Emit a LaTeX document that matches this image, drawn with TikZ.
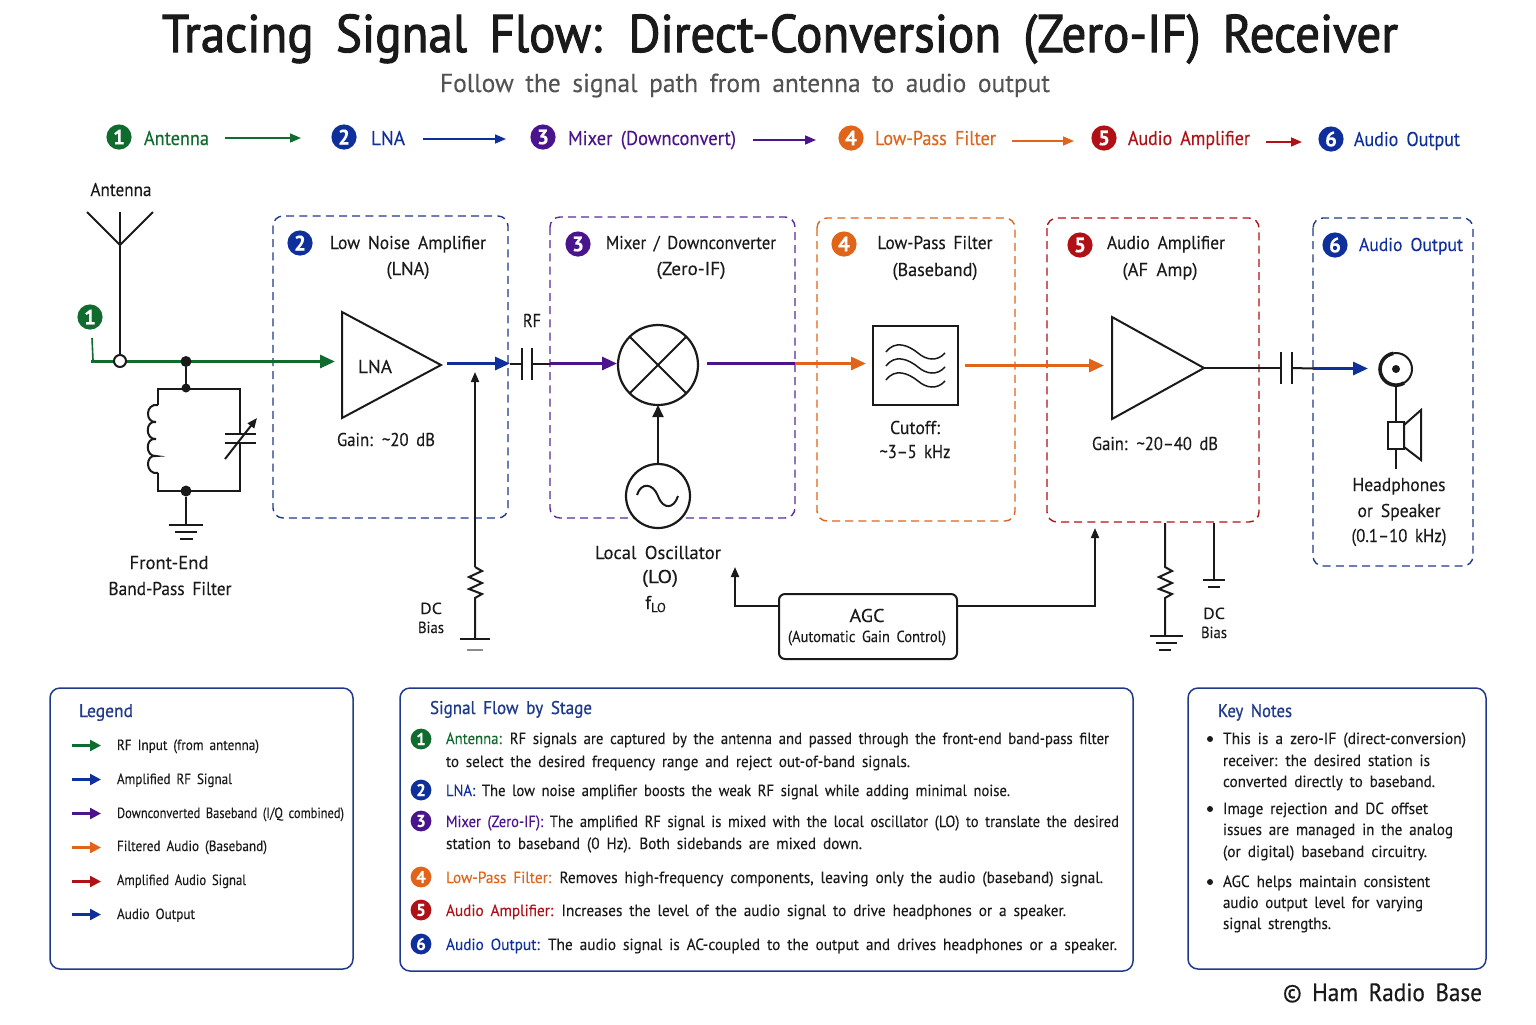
\documentclass[tikz,border=0pt]{standalone}
\usepackage{fontspec}
\usetikzlibrary{arrows.meta,shapes.geometric}
\setmainfont[WordSpace=1.7,FakeBold=0.15]{PT Sans}
\definecolor{cgreen}{HTML}{0F6B2E}
\definecolor{cblue}{HTML}{0F2F9B}
\definecolor{cpurple}{HTML}{4A148C}
\definecolor{corange}{HTML}{E0651A}
\definecolor{cred}{HTML}{B01116}
\definecolor{cink}{HTML}{1A1A1A}
\definecolor{cnavy}{HTML}{1F3A8A}
\newcommand\fx[2]{\resizebox{\dimexpr#1pt/2\relax}{\height}{#2}}
\tikzset{
 x=0.5pt,y=-0.5pt,
 every node/.style={inner sep=0pt,outer sep=0pt,text=cink},
 wire/.style={draw=cink,line width=1pt},
 sig/.style={line width=1.5pt,-{Triangle[length=7.5pt,width=6.5pt]}},
 sigp/.style={line width=1.5pt},
 top/.style={line width=0.8pt,-{Triangle[length=5.5pt,width=4.5pt]}},
 leg/.style={line width=1.2pt,-{Triangle[length=5.5pt,width=5.5pt]}},
 ctl/.style={wire,-{Triangle[length=5pt,width=4pt]}},
 stage/.style={draw,line width=0.7pt,dash pattern=on 4pt off 2.6pt,rounded corners=5pt},
 panel/.style={draw=cnavy,line width=0.75pt,rounded corners=5pt},
 badge/.style={circle,fill=#1,minimum size=12.6pt,text=white,font=\fontsize{10.5}{12}\selectfont\bfseries},
 sbadge/.style={circle,fill=#1,minimum size=10.4pt,text=white,font=\fontsize{8.5}{10}\selectfont\bfseries},
 lab/.style={anchor=base,font=\fontsize{9.3}{12}\selectfont},
 small/.style={anchor=base,font=\fontsize{8}{10}\selectfont},
 toplab/.style={anchor=base west,font=\fontsize{10}{12}\selectfont},
 body/.style={anchor=base west,font=\fontsize{8.1}{10}\selectfont},
 legt/.style={anchor=base west,font=\fontsize{7.4}{10}\selectfont},
 head/.style={anchor=base west,font=\fontsize{9.2}{12}\selectfont\addfontfeature{FakeBold=0.8},text=cnavy},
 dot/.style={circle,fill=cink,minimum size=#1},
 dot/.default=5.5pt,
}
\begin{document}
\begin{tikzpicture}
\useasboundingbox (0,0) rectangle (1536,1024);
\fill[white] (0,0) rectangle (1536,1024);
% title
\node[anchor=base,font=\fontsize{26.5}{30}\selectfont\addfontfeature{FakeBold=2}] (title) at (780,52) {\fx{1236}{Tracing Signal Flow: Direct-Conversion (Zero-IF) Receiver}};
\node[anchor=base,font=\fontsize{13}{16}\selectfont,text=cink!75] (subtitle) at (745,92) {\fx{610}{Follow the signal path from antenna to audio output}};
% top strip
\node[badge=cgreen] (t1) at (119,137) {1};
\node[toplab,text=cgreen] (t1l) at (144,145) {\fx{65}{Antenna}};
\coordinate (t1a) at (225,138); \coordinate (t1b) at (301,138);
\draw[top,cgreen] (t1a) -- (t1b);
\node[badge=cblue] (t2) at (344,137) {2};
\node[toplab,text=cblue] (t2l) at (371,145) {\fx{34}{LNA}};
\coordinate (t2a) at (423,139); \coordinate (t2b) at (506,139);
\draw[top,cblue] (t2a) -- (t2b);
\node[badge=cpurple] (t3) at (543,137) {3};
\node[toplab,text=cpurple] (t3l) at (568,145) {\fx{168}{Mixer (Downconvert)}};
\coordinate (t3a) at (753,140); \coordinate (t3b) at (816,140);
\draw[top,cpurple] (t3a) -- (t3b);
\node[badge=corange] (t4) at (851,138) {4};
\node[toplab,text=corange] (t4l) at (875,145) {\fx{121}{Low-Pass Filter}};
\coordinate (t4a) at (1012,141); \coordinate (t4b) at (1074,141);
\draw[top,corange] (t4a) -- (t4b);
\node[badge=cred] (t5) at (1104,138) {5};
\node[toplab,text=cred] (t5l) at (1128,145) {\fx{122}{Audio Amplifier}};
\coordinate (t5a) at (1266,142); \coordinate (t5b) at (1302,142);
\draw[top,cred] (t5a) -- (t5b);
\node[badge=cblue] (t6) at (1331,139) {6};
\node[toplab,text=cblue] (t6l) at (1354,146) {\fx{106}{Audio Output}};
% stage boxes
\draw[stage,cnavy] (273,216) rectangle (508,518);
\draw[stage,cpurple!90] (550,217) rectangle (795,518);
\draw[stage,corange] (817,218) rectangle (1015,521);
\draw[stage,cred] (1047,218) rectangle (1259,522);
\draw[stage,cnavy] (1313,218) rectangle (1473,566);
% antenna
\node[lab] (antl) at (121,196) {\fx{61}{Antenna}};
\coordinate (anta) at (87,212); \coordinate (antb) at (120,245); \coordinate (antc) at (153,212); \coordinate (antt) at (120,212);
\draw[wire] (anta) -- (antb) -- (antc);
\draw[wire] (antt) -- (antb);
\coordinate (gtick) at (92,338); \coordinate (gcorner) at (93,360); \coordinate (gstart) at (91,361.5);
\node[badge=cgreen] (s1) at (90,317) {1};
\coordinate (jn) at (186,361.5);
\coordinate (lnain) at (335,361.5);
\draw[cgreen,line width=0.8pt] (gtick) -- (gcorner);
\draw[sig,cgreen] (gstart) -- (lnain);
\node[circle,draw=cink,fill=white,line width=1pt,minimum size=6pt] (antj) at (120,361) {};
\draw[wire] (antb) -- (antj);
\node[dot] (jn1) at (jn) {};
\node[dot,minimum size=4.5pt] (jn2) at (186,388) {};
\node[dot] (jn3) at (186,491) {};
\draw[wire] (jn1) -- (jn2);
% tank
\draw[wire] (158,405) -- (158,389) -- (240,389) -- (240,434);
\draw[wire] (240,443) -- (240,491) -- (158,491) -- (158,473);
\draw[wire] (158,405) .. controls (145,403) and (145,423) .. (156,422)
 .. controls (145,420) and (145,440) .. (156,439)
 .. controls (145,437) and (145,457) .. (156,456)
 .. controls (145,454) and (145,475) .. (158,473);
\draw[wire] (225,434) -- (256,434);
\draw[wire] (225,443) -- (256,443);
\draw[wire,-{Triangle[length=5pt,width=4pt]}] (225,459) -- (257,418);
\coordinate (g1) at (186,525);
\draw[wire] (jn3) -- (g1);
\draw[wire] (169,525) -- (203,525);
\draw[wire] (175,532) -- (197,532);
\draw[wire] (180,539) -- (193,539);
\node[lab] (fe1) at (169,569) {\fx{79}{Front-End}};
\node[lab] (fe2) at (170,595) {\fx{123}{Band-Pass Filter}};
% LNA
\node[badge=cblue] (b2) at (300,243) {2};
\node[lab] (l2a) at (408,249) {\fx{156}{Low Noise Amplifier}};
\node[lab] (l2b) at (408,275) {\fx{43}{(LNA)}};
\coordinate (lna1) at (342,312); \coordinate (lnaout) at (441,365); \coordinate (lna3) at (342,418);
\draw[wire,line join=miter] (lna1) -- (lnaout) -- (lna3) -- cycle;
\node[lab] (lnat) at (375,373) {\fx{34}{LNA}};
\node[lab] (g2) at (386,446) {\fx{98}{Gain: \textasciitilde20 dB}};
\coordinate (lo1) at (447,363.5); \coordinate (c1) at (510,363.5);
\draw[sig,cblue] (lo1) -- (c1);
\coordinate (c1a) at (521.5,363.5);
\draw[wire] (c1) -- (c1a);
\draw[wire] (521.5,348) -- (521.5,380);
\draw[wire] (532,348) -- (532,380);
\node[lab] (rf) at (532,327) {\fx{18}{RF}};
% DC bias LNA
\coordinate (dcT) at (475,372); \coordinate (dc1) at (475,567); \coordinate (dc2) at (475,598); \coordinate (dcG) at (475,639);
\draw[ctl] (dc1) -- (dcT);
\draw[wire,line join=miter] (dc1) -- (482,571) -- (469,577) -- (482,583) -- (469,589) -- (482,594) -- (dc2) -- (dcG);
\draw[wire] (460,639) -- (490,639);
\draw[draw=cink!50,line width=0.9pt] (467,650) -- (483,650);
\node[small] (dcA) at (431,614) {\fx{22}{DC}};
\node[small] (dcB) at (431,633) {\fx{26}{Bias}};
% mixer
\node[badge=cpurple] (b3) at (578,244) {3};
\node[lab] (l3a) at (691,249) {\fx{170}{Mixer / Downconverter}};
\node[lab] (l3b) at (691,275) {\fx{69}{(Zero-IF)}};
\node[circle,draw=cink,fill=white,line width=1.1pt,minimum size=40pt] (mix) at (658,365) {};
\draw[wire] (mix.45) -- (mix.225);
\draw[wire] (mix.135) -- (mix.315);
\coordinate (c1r) at (532,363.5); \coordinate (mbl) at (550,363.5); \coordinate (mixin) at (617,363.5);
\draw[wire] (c1r) -- (mbl);
\draw[sig,cpurple] (mbl) -- (mixin);
\coordinate (mo) at (707,363.5); \coordinate (mb) at (795,363.5); \coordinate (lpfin) at (866,363.5);
\draw[sigp,cpurple] (mo) -- (mb);
\draw[sig,corange] (mb) -- (lpfin);
\node[circle,draw=cink,fill=white,line width=1.1pt,minimum size=32pt] (lo) at (658,496) {};
\draw[wire] (637,495) .. controls (641,482) and (653,483) .. (658,496) .. controls (663,510) and (674,509) .. (678,496);
\draw[wire,-{Triangle[length=6pt,width=5.5pt]}] (lo.north) -- (mix.south);
\node[lab] (lo1t) at (658,559) {\fx{126}{Local Oscillator}};
\node[lab] (lo2t) at (660,583) {\fx{36}{(LO)}};
\node[lab] (lo3t) at (656,609) {f\textsubscript{LO}};
% LPF
\node[badge=corange] (b4) at (844,244) {4};
\node[lab] (l4a) at (935,249) {\fx{115}{Low-Pass Filter}};
\node[lab] (l4b) at (935,276) {\fx{85}{(Baseband)}};
\node[draw=cink,fill=white,line width=1.2pt,minimum width=42.5pt,minimum height=39.5pt] (lpf) at (915.5,365.5) {};
\foreach \d in {0,14,28}{
 \draw[wire,line width=0.75pt] (886,352+\d) .. controls (895,340+\d) and (908,345+\d) .. (918,353+\d) .. controls (926,360+\d) and (937,362+\d) .. (945,353+\d);
}
\node[lab] (cut1) at (915,434) {\fx{50}{Cutoff:}};
\node[lab] (cut2) at (915,458) {\fx{71}{\textasciitilde3--5 kHz}};
\coordinate (lo2) at (965,365.5); \coordinate (afin) at (1104,365.5);
\draw[sig,corange] (lo2) -- (afin);
% AF amp
\node[badge=cred] (b5) at (1080,245) {5};
\node[lab] (l5a) at (1166,249) {\fx{118}{Audio Amplifier}};
\node[lab] (l5b) at (1160,276) {\fx{75}{(AF Amp)}};
\coordinate (af1) at (1112,317); \coordinate (afout) at (1204,368); \coordinate (af3) at (1112,419);
\draw[wire,line join=miter] (af1) -- (afout) -- (af3) -- cycle;
\node[lab] (g5) at (1155,450) {\fx{126}{Gain: \textasciitilde20--40 dB}};
\coordinate (c2a) at (1281,368); \coordinate (c2b) at (1292,368); \coordinate (c2c) at (1313,368.5); \coordinate (jk) at (1368,368.5);
\draw[wire] (afout) -- (c2a);
\draw[wire] (1281,352) -- (1281,384);
\draw[wire] (1292,352) -- (1292,384);
\draw[wire] (c2b) -- (c2c);
\draw[sig,cblue] (c2c) -- (jk);
% output
\node[badge=cblue] (b6) at (1335,245) {6};
\node[lab,text=cblue] (l6) at (1411,251) {\fx{104}{Audio Output}};
\node[circle,draw=cink,fill=white,line width=1pt,minimum size=16pt] (jack) at (1396,369) {};
\draw[cink,line width=1.8pt] (1404,383) arc (60:260:16);
\node[dot=4pt] (jackd) at (1396,369) {};
\coordinate (spk) at (1396,469);
\draw[wire] (jack) -- (spk);
\draw[wire,fill=white] (1388,422) rectangle (1404,449);
\draw[wire,fill=white,line join=miter] (1404,425) -- (1421,410) -- (1421,460) -- (1404,447) -- cycle;
\node[lab] (hp1) at (1399,491) {\fx{93}{Headphones}};
\node[lab] (hp2) at (1399,517) {\fx{83}{or Speaker}};
\node[lab] (hp3) at (1399,542) {\fx{95}{(0.1--10 kHz)}};
% AGC
\draw[wire,rounded corners=3pt] (779,594) rectangle (957,659);
\coordinate (agcl) at (779,606); \coordinate (agcr) at (957,606); \coordinate (agct1) at (735,567); \coordinate (agct2) at (1095,528);
\node[lab] (agc1) at (867,622) {\fx{35}{AGC}};
\node[small] (agc2) at (867,642) {\fx{158}{(Automatic Gain Control)}};
\draw[ctl] (agcl) -- (735,606) -- (agct1);
\draw[ctl] (agcr) -- (1095,606) -- (agct2);
% AF bias
\coordinate (r1) at (1165,523); \coordinate (r2) at (1165,567); \coordinate (r3) at (1165,598); \coordinate (r4) at (1165,636);
\draw[wire,line join=miter] (r1) -- (r2) -- (1172,571) -- (1159,577) -- (1172,583) -- (1159,589) -- (1172,594) -- (r3) -- (r4);
\draw[wire] (1150,636) -- (1183,636);
\draw[wire] (1156,643) -- (1177,643);
\draw[wire] (1159,650) -- (1171,650);
\coordinate (d1) at (1214,523); \coordinate (d2) at (1214,580);
\draw[wire] (d1) -- (d2);
\draw[wire] (1203,580) -- (1225,580);
\draw[wire] (1208,587) -- (1220,587);
\node[small] (dc5a) at (1214,619) {\fx{22}{DC}};
\node[small] (dc5b) at (1214,638) {\fx{26}{Bias}};
% Legend
\draw[panel] (50,688) rectangle (353,969);
\node[head] (legh) at (79,717) {\fx{54}{Legend}};
\coordinate (la1) at (72,745.5); \coordinate (lb1) at (101,745.5);
\coordinate (la2) at (72,779.5); \coordinate (lb2) at (101,779.5);
\coordinate (la3) at (72,813.5); \coordinate (lb3) at (101,813.5);
\coordinate (la4) at (72,847.5); \coordinate (lb4) at (101,847.5);
\coordinate (la5) at (72,881.5); \coordinate (lb5) at (101,881.5);
\coordinate (la6) at (72,914.5); \coordinate (lb6) at (101,914.5);
\draw[leg,cgreen] (la1) -- (lb1);
\draw[leg,cblue] (la2) -- (lb2);
\draw[leg,cpurple] (la3) -- (lb3);
\draw[leg,corange] (la4) -- (lb4);
\draw[leg,cred] (la5) -- (lb5);
\draw[leg,cblue] (la6) -- (lb6);
\node[legt] (lt1) at (117,750) {\fx{142}{RF Input (from antenna)}};
\node[legt] (lt2) at (117,784) {\fx{115}{Amplified RF Signal}};
\node[legt] (lt3) at (117,818) {\fx{227}{Downconverted Baseband (I/Q combined)}};
\node[legt] (lt4) at (117,851) {\fx{150}{Filtered Audio (Baseband)}};
\node[legt] (lt5) at (117,885) {\fx{129}{Amplified Audio Signal}};
\node[legt] (lt6) at (117,919) {\fx{78}{Audio Output}};
% Stage panel
\draw[panel] (400,688) rectangle (1133,971);
\node[head] (sigh) at (430,714) {\fx{162}{Signal Flow by Stage}};
\node[sbadge=cgreen] (n1) at (421,739) {1};
\node[body] (n1a) at (446,744) {\fx{663}{\textcolor{cgreen}{Antenna:} RF signals are captured by the antenna and passed through the front-end band-pass filter}};
\node[body] (n1b) at (446,767) {\fx{464}{to select the desired frequency range and reject out-of-band signals.}};
\node[sbadge=cblue] (n2) at (421,790) {2};
\node[body] (n2a) at (446,796) {\fx{564}{\textcolor{cblue}{LNA:} The low noise amplifier boosts the weak RF signal while adding minimal noise.}};
\node[sbadge=cpurple] (n3) at (421,821) {3};
\node[body] (n3a) at (446,827) {\fx{673}{\textcolor{cpurple}{Mixer (Zero-IF):} The amplified RF signal is mixed with the local oscillator (LO) to translate the desired}};
\node[body] (n3b) at (446,849) {\fx{416}{station to baseband (0 Hz). Both sidebands are mixed down.}};
\node[sbadge=corange] (n4) at (421,877) {4};
\node[body] (n4a) at (446,883) {\fx{657}{\textcolor{corange}{Low-Pass Filter:} Removes high-frequency components, leaving only the audio (baseband) signal.}};
\node[sbadge=cred] (n5) at (421,910) {5};
\node[body] (n5a) at (446,916) {\fx{620}{\textcolor{cred}{Audio Amplifier:} Increases the level of the audio signal to drive headphones or a speaker.}};
\node[sbadge=cblue] (n6) at (421,944) {6};
\node[body] (n6a) at (446,950) {\fx{671}{\textcolor{cblue}{Audio Output:} The audio signal is AC-coupled to the output and drives headphones or a speaker.}};
% Notes
\draw[panel] (1188,688) rectangle (1486,969);
\node[head] (keyh) at (1218,717) {\fx{74}{Key Notes}};
\node[dot=3pt] (k1) at (1210,739) {};
\node[body] (k1a) at (1223,744) {\fx{243}{This is a zero-IF (direct-conversion)}};
\node[body] (k1b) at (1223,766) {\fx{207}{receiver: the desired station is}};
\node[body] (k1c) at (1223,787) {\fx{212}{converted directly to baseband.}};
\node[dot=3pt] (k2) at (1210,809) {};
\node[body] (k2a) at (1223,814) {\fx{205}{Image rejection and DC offset}};
\node[body] (k2b) at (1223,835) {\fx{230}{issues are managed in the analog}};
\node[body] (k2c) at (1223,857) {\fx{204}{(or digital) baseband circuitry.}};
\node[dot=3pt] (k3) at (1210,882) {};
\node[body] (k3a) at (1223,887) {\fx{207}{AGC helps maintain consistent}};
\node[body] (k3b) at (1223,908) {\fx{200}{audio output level for varying}};
\node[body] (k3c) at (1223,929) {\fx{108}{signal strengths.}};
\node[anchor=base east,font=\fontsize{12.5}{14}\selectfont\addfontfeature{FakeBold=0.6}] (copy) at (1482,1001) {\fx{199}{© Ham Radio Base}};
\end{tikzpicture}
\end{document}
